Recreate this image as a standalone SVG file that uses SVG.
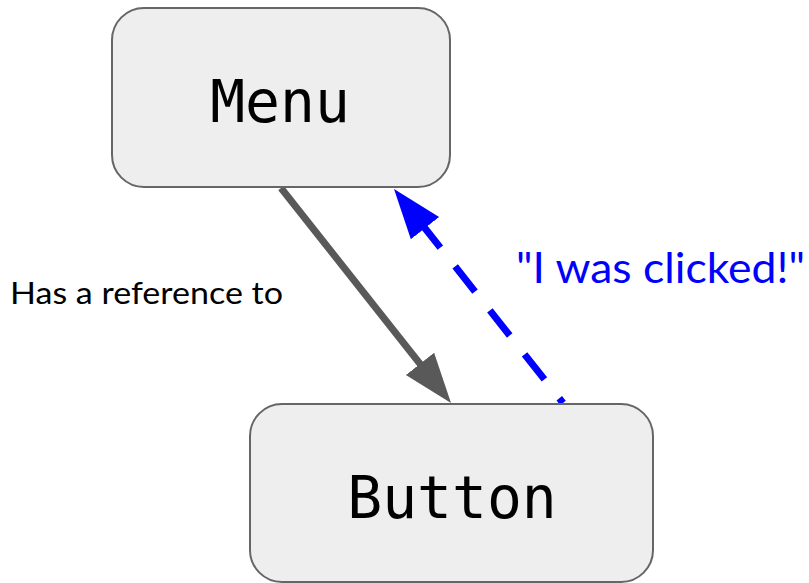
<svg xmlns="http://www.w3.org/2000/svg" width="809" height="583" viewBox="0 0 809 583">
  <style>
    .box { fill: #eeeeee; stroke: #666666; stroke-width: 2; }
    .code { font-family: "DejaVu Sans Mono", "Liberation Mono", monospace; font-size: 58px; fill: #000000; text-anchor: middle; }
    .label { font-family: Lato, "Liberation Sans", Arial, sans-serif; }
  </style>
  <defs>
    <!-- arrowheads: 50 long, 36 wide; the line ends 20 px past the base -->
    <marker id="headGray" markerUnits="userSpaceOnUse" markerWidth="60" markerHeight="60" refX="20" refY="20" orient="auto">
      <path d="M0,2 L50,20 L0,38 Z" fill="#595959"/>
    </marker>
    <marker id="headBlue" markerUnits="userSpaceOnUse" markerWidth="60" markerHeight="60" refX="20" refY="20" orient="auto">
      <path d="M0,2 L50,20 L0,38 Z" fill="#0000ff"/>
    </marker>
  </defs>

  <g id="connectors">
    <line x1="281" y1="188" x2="432.4" y2="379.5" stroke="#595959" stroke-width="7" marker-end="url(#headGray)"/>
    <line x1="563" y1="403" x2="412.6" y2="212.5" stroke="#0000ff" stroke-width="7" stroke-dasharray="32 24" stroke-dashoffset="26" marker-end="url(#headBlue)"/>
  </g>

  <g id="menu">
    <rect class="box" x="112" y="8" width="338" height="179" rx="32" ry="32"/>
    <text class="code" x="280" y="122">Menu</text>
  </g>

  <g id="button">
    <rect class="box" x="250" y="404" width="403" height="178" rx="32" ry="32"/>
    <text class="code" x="452" y="518">Button</text>
  </g>

  <g id="labels">
    <text class="label" x="10" y="304" font-size="30" fill="#000000" textLength="273" lengthAdjust="spacingAndGlyphs">Has a reference to</text>
    <text class="label" x="516" y="283" font-size="43" fill="#0000ff" textLength="289" lengthAdjust="spacingAndGlyphs">"I was clicked!"</text>
  </g>
</svg>
